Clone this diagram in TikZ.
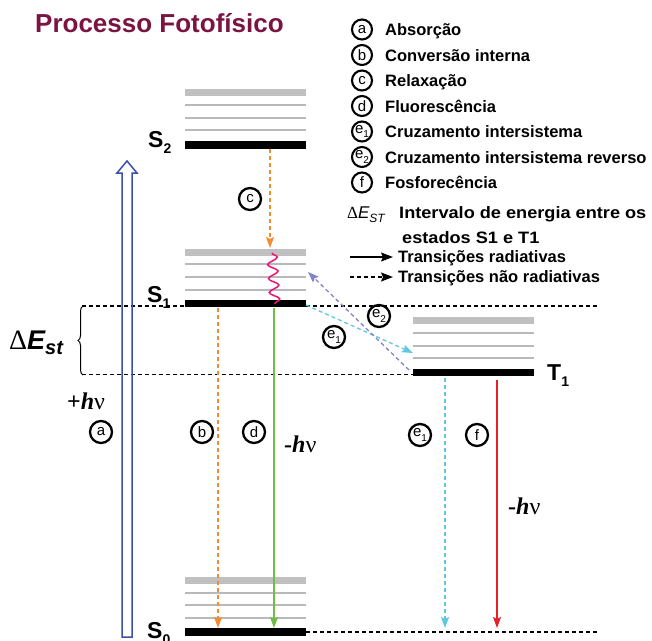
\documentclass[tikz,border=0pt]{standalone}
\usepackage{fontspec}
\setmainfont{Liberation Sans}
\newfontfamily\tnr{Liberation Serif}
\usetikzlibrary{arrows.meta,decorations.pathmorphing,decorations.pathreplacing}
\definecolor{titlec}{RGB}{122,20,66}
\definecolor{bandgray}{RGB}{192,192,192}
\definecolor{linegray}{RGB}{185,185,185}
\definecolor{orangec}{RGB}{240,140,50}
\definecolor{greenc}{RGB}{110,190,70}
\definecolor{cyanc}{RGB}{95,200,222}
\definecolor{redc}{RGB}{232,30,40}
\definecolor{purplec}{RGB}{130,130,205}
\definecolor{pinkc}{RGB}{232,20,120}
\definecolor{bluec}{RGB}{60,80,170}
\newcommand\subx[1]{\raisebox{-0.28em}{\fontsize{14}{14}\selectfont #1}}
\newcommand\subc[1]{\raisebox{-0.3em}{\fontsize{10}{10}\selectfont #1}}
\begin{document}
\begin{tikzpicture}[x=1pt,y=-1pt,
  band/.style={line width=7pt, draw=bandgray},
  thinl/.style={line width=1.2pt, draw=linegray},
  ground/.style={line width=7.5pt, draw=black},
  lab/.style={circle, draw, line width=2.3pt, inner sep=0pt, minimum size=22pt, font=\fontsize{15}{15}\selectfont},
  leglab/.style={circle, draw, line width=2.1pt, inner sep=0pt, minimum size=20pt, font=\fontsize{15}{15}\selectfont},
  tip/.style={-{Stealth[length=11pt,width=8pt,inset=2pt]}},
  ndash/.style={dash pattern=on 4pt off 3pt},
  legtxt/.style={anchor=base west, inner sep=0pt, font=\bfseries\fontsize{16.5}{18}\selectfont},
  stlab/.style={anchor=base west, inner sep=0pt, font=\bfseries\fontsize{23}{23}\selectfont},
  tr/.style={line width=1.3pt}
]
\useasboundingbox (0,0) rectangle (652,640);

% title
\node[anchor=base west, inner sep=0pt, text=titlec, font=\bfseries\fontsize{26}{26}\selectfont] (title) at (35,32) {Processo Fotofísico};

% energy levels
\foreach \xa/\xb/\g/\la/\lb/\lc/\bl in {185/306/92/105/118/130/145, 185/306/252/264/277/290/303.5, 413/534/320.5/333/346/358/372.5, 185/306/580.5/593/605/618/632}{
  \draw[band] (\xa,\g) -- (\xb,\g);
  \draw[thinl] (\xa,\la) -- (\xb,\la);
  \draw[thinl] (\xa,\lb) -- (\xb,\lb);
  \draw[thinl] (\xa,\lc) -- (\xb,\lc);
  \draw[ground] (\xa,\bl) -- (\xb,\bl);
}

% state labels
\node[stlab] (S2) at (148,147) {S\subx{2}};
\node[stlab] (S1) at (147,302) {S\subx{1}};
\node[stlab] (S0) at (147,638) {S\subx{0}};
\node[stlab] (T1) at (547,380) {T\subx{1}};

% dashed reference lines
\draw[ndash, line width=1.2pt] (82,306) -- (185,306);
\draw[ndash, line width=1.2pt] (306,306) -- (597,306);
\draw[ndash, line width=1.2pt] (82,374.5) -- (413,374.5);
\draw[ndash, line width=1.2pt] (306,632) -- (597,632);

% brace and Delta E_st
\draw[line width=1pt, decorate, decoration={brace, amplitude=5pt}] (83,375) -- (83,306);
\node[anchor=base west, inner sep=0pt] (dest) at (9,349) {{\tnr\fontsize{28}{28}\selectfont Δ}{\bfseries\itshape\fontsize{27}{27}\selectfont E\raisebox{-0.2em}{\fontsize{20}{20}\selectfont st}}};

% absorption arrow
\draw[bluec, line width=1.5pt, line join=miter] (122,637) -- (122,173) -- (117,173) -- (127,161) -- (137,173) -- (132,173) -- (132,637) -- cycle;
\node[anchor=base west, inner sep=0pt, font=\tnr\fontsize{24}{24}\selectfont] (hv1) at (67,409) {\textbf{+\textit{h}}ν};

% coordinates for transitions
\coordinate (cA) at (270,149);
\coordinate (cB) at (270,248);
\coordinate (wA) at (272,253);
\coordinate (wB) at (275,304);
\coordinate (bA) at (218,308);
\coordinate (bB) at (218,628);
\coordinate (dA) at (274,308);
\coordinate (dB) at (274,628);
\coordinate (eA) at (306,305);
\coordinate (eB) at (413,353);
\coordinate (gA) at (409,370);
\coordinate (gB) at (308,272);
\coordinate (vA) at (445,378);
\coordinate (vB) at (445,628);
\coordinate (fA) at (497,380);
\coordinate (fB) at (497,628);

% transitions
\draw[tr, orangec, ndash, tip] (cA) -- (cB);
\draw[pinkc, line width=1.5pt, decorate, decoration={snake, amplitude=5pt, segment length=14pt}] (wA) -- (wB);
\draw[tr, orangec, ndash, tip] (bA) -- (bB);
\draw[tr, greenc, tip] (dA) -- (dB);
\draw[tr, cyanc, ndash, tip] (eA) -- (eB);
\draw[tr, purplec, ndash, tip] (gA) -- (gB);
\draw[tr, cyanc, ndash, tip] (vA) -- (vB);
\draw[tr, redc, tip] (fA) -- (fB);

\node[anchor=base west, inner sep=0pt, font=\tnr\fontsize{24}{24}\selectfont] (hv2) at (284,452) {\textbf{-\textit{h}}ν};
\node[anchor=base west, inner sep=0pt, font=\tnr\fontsize{24}{24}\selectfont] (hv3) at (508,514) {\textbf{-\textit{h}}ν};

% circled labels in diagram
\node[lab] (ca) at (101,432) {a};
\node[lab] (cb) at (202,432) {b};
\node[lab] (cd) at (254,432) {d};
\node[lab] (cc) at (250,199) {c};
\node[lab] (ce1) at (334,337) {e\subc{1}};
\node[lab] (ce2) at (379,316) {e\subc{2}};
\node[lab] (ce1b) at (420,435) {e\subc{1}};
\node[lab] (cf) at (477,435) {f};

% legend
\node[leglab] (la) at (362,29.5) {a};
\node[legtxt] (ta) at (385,35.5) {Absorção};
\node[leglab] (lb) at (362,55) {b};
\node[legtxt] (tb) at (385,61) {Conversão interna};
\node[leglab] (lc) at (362,80.5) {c};
\node[legtxt] (tc) at (385,86.5) {Relaxação};
\node[leglab] (ld) at (362,106) {d};
\node[legtxt] (td) at (385,112) {Fluorescência};
\node[leglab] (le1) at (362,131.5) {e\subc{1}};
\node[legtxt] (te1) at (385,137.5) {Cruzamento intersistema};
\node[leglab] (le2) at (362,157) {e\subc{2}};
\node[legtxt] (te2) at (385,163) {Cruzamento intersistema reverso};
\node[leglab] (lf) at (362,182.5) {f};
\node[legtxt] (tf) at (385,188.5) {Fosforecência};

\node[anchor=base west, inner sep=0pt] (lde) at (347,218) {{\tnr\fontsize{17}{17}\selectfont Δ}{\itshape\fontsize{17}{17}\selectfont E\raisebox{-0.25em}{\fontsize{12}{12}\selectfont ST}}};
\node[legtxt] (tde) at (399,218) {\scalebox{1.1}[1]{Intervalo de energia entre os}};
\node[legtxt] (tde2) at (402,243) {\scalebox{1.1}[1]{estados S1 e T1}};

\coordinate (r1) at (350,257);
\coordinate (r2) at (393,257);
\coordinate (n1) at (350,277);
\coordinate (n2) at (393,277);
\draw[line width=1.3pt, -{Stealth[length=12pt,width=9pt,inset=2pt]}] (r1) -- (r2);
\draw[line width=1.3pt, ndash, -{Stealth[length=12pt,width=9pt,inset=2pt]}] (n1) -- (n2);
\node[legtxt] (tr1) at (398,262) {Transições radiativas};
\node[legtxt] (tr2) at (398,282) {Transições não radiativas};
\end{tikzpicture}
\end{document}
